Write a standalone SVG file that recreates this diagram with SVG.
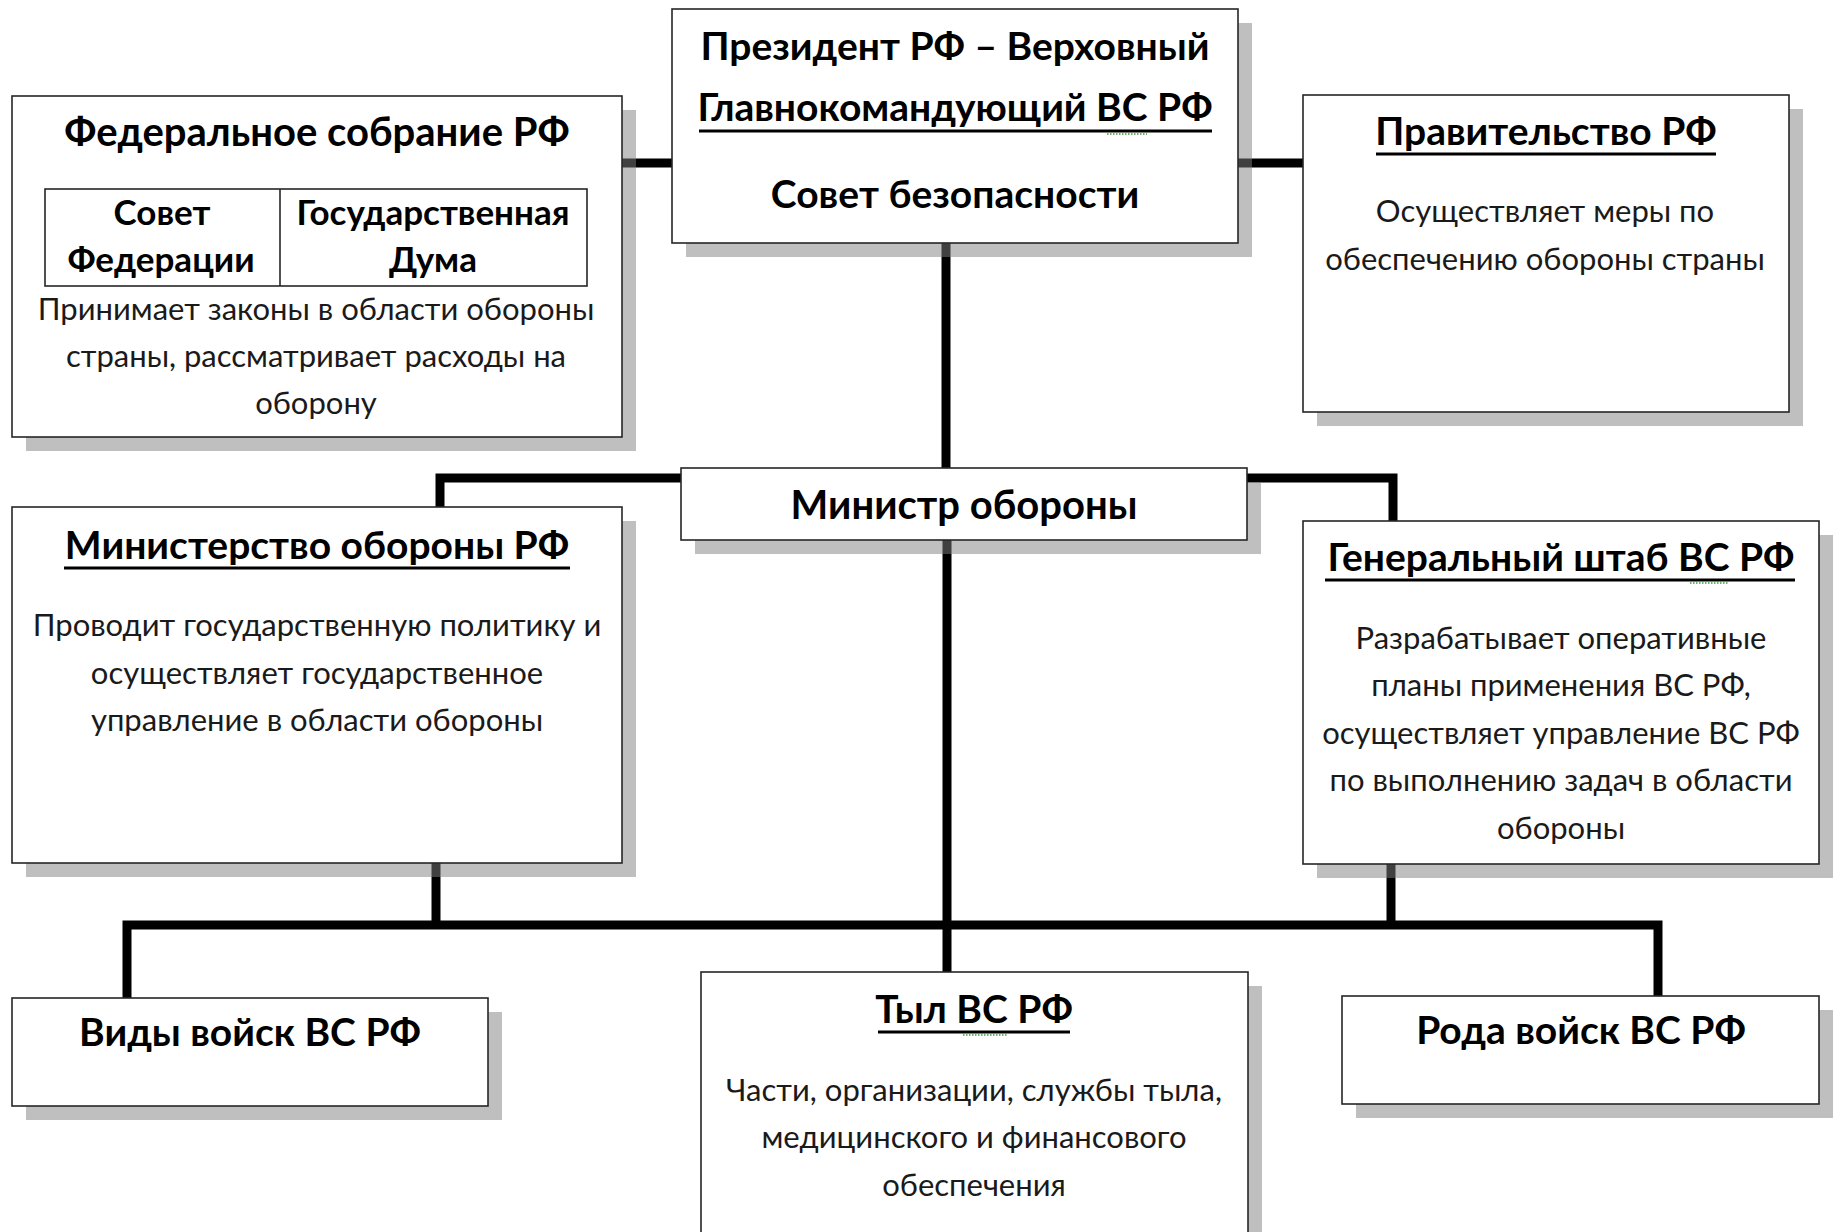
<svg xmlns="http://www.w3.org/2000/svg" width="1839" height="1232" viewBox="0 0 1839 1232">
<style>
.bg{fill:#fff}
.box{fill:#fff;stroke:#262626;stroke-width:1.6}
.sh{fill:#7f7f7f;fill-opacity:0.5}
.t{font-family:Lato,"Noto Sans",sans-serif;font-weight:700;font-size:39px;text-anchor:middle;fill:#000}
.tl{font-size:40px}
.c{font-family:Lato,"Noto Sans",sans-serif;font-weight:700;font-size:35px;text-anchor:middle;fill:#000}
.b{font-family:Lato,"Noto Sans",sans-serif;font-weight:400;font-size:31px;text-anchor:middle;fill:#1a1a1a}
.ul{stroke:#000;stroke-width:3}
.sq{stroke:#3a9a3a;stroke-width:1.5;stroke-dasharray:1.5 1.5}
.conn{stroke:#000;stroke-width:9;fill:none;stroke-linejoin:miter}
</style>
<rect class="bg" x="0" y="0" width="1839" height="1232"/>
<g id="connectors">
<path class="conn" d="M622 163 H672"/>
<path class="conn" d="M1238 163 H1303"/>
<path class="conn" d="M946 243 V468"/>
<path class="conn" d="M681 478 H440 V507"/>
<path class="conn" d="M1247 478 H1393 V521"/>
<path class="conn" d="M947 540 V972"/>
<path class="conn" d="M127 998 V925 H1658 V996"/>
<path class="conn" d="M436 863 V925"/>
<path class="conn" d="M1391 864 V925"/>
</g>
<g id="president">
<rect class="sh" x="686" y="23" width="566" height="234"/>
<rect class="box" x="672" y="9" width="566" height="234"/>
<text class="t" x="955" y="60">Президент РФ – Верховный</text>
<text class="t" x="955" y="121">Главнокомандующий ВС РФ</text>
<line class="ul" x1="699" y1="131" x2="1212" y2="131"/>
<line class="sq" x1="1107" y1="134" x2="1147" y2="134"/>
<text class="t" x="955" y="208">Совет безопасности</text>
</g>
<g id="federal-assembly">
<rect class="sh" x="26" y="110" width="610" height="341"/>
<rect class="box" x="12" y="96" width="610" height="341"/>
<text class="t tl" x="317" y="146">Федеральное собрание РФ</text>
<rect class="box" x="45" y="189" width="542" height="97"/>
<line class="box" x1="280" y1="189" x2="280" y2="286"/>
<text class="c" x="162" y="225">Совет</text>
<text class="c" x="161" y="272">Федерации</text>
<text class="c" x="433" y="225">Государственная</text>
<text class="c" x="433" y="272">Дума</text>
<text class="b" x="316" y="320">Принимает законы в области обороны</text>
<text class="b" x="316" y="367">страны, рассматривает расходы на</text>
<text class="b" x="316" y="414">оборону</text>
</g>
<g id="government">
<rect class="sh" x="1317" y="109" width="486" height="317"/>
<rect class="box" x="1303" y="95" width="486" height="317"/>
<text class="t" x="1546" y="145">Правительство РФ</text>
<line class="ul" x1="1376" y1="154" x2="1716" y2="154"/>
<text class="b" x="1545" y="222">Осуществляет меры по</text>
<text class="b" x="1545" y="270">обеспечению обороны страны</text>
</g>
<g id="minister">
<rect class="sh" x="695" y="482" width="566" height="72"/>
<rect class="box" x="681" y="468" width="566" height="72"/>
<text class="t tl" x="964" y="519">Министр обороны</text>
</g>
<g id="ministry">
<rect class="sh" x="26" y="521" width="610" height="356"/>
<rect class="box" x="12" y="507" width="610" height="356"/>
<text class="t" x="317" y="559">Министерство обороны РФ</text>
<line class="ul" x1="64" y1="568" x2="570" y2="568"/>
<text class="b" x="317" y="636">Проводит государственную политику и</text>
<text class="b" x="317" y="684">осуществляет государственное</text>
<text class="b" x="317" y="731">управление в области обороны</text>
</g>
<g id="general-staff">
<rect class="sh" x="1317" y="535" width="516" height="343"/>
<rect class="box" x="1303" y="521" width="516" height="343"/>
<text class="t" x="1561" y="571">Генеральный штаб ВС РФ</text>
<line class="ul" x1="1325" y1="580" x2="1795" y2="580"/>
<line class="sq" x1="1690" y1="583" x2="1729" y2="583"/>
<text class="b" x="1561" y="649">Разрабатывает оперативные</text>
<text class="b" x="1561" y="696">планы применения ВС РФ,</text>
<text class="b" x="1561" y="744">осуществляет управление ВС РФ</text>
<text class="b" x="1561" y="791">по выполнению задач в области</text>
<text class="b" x="1561" y="839">обороны</text>
</g>
<g id="branches">
<rect class="sh" x="26" y="1012" width="476" height="108"/>
<rect class="box" x="12" y="998" width="476" height="108"/>
<text class="t" x="250" y="1046">Виды войск ВС РФ</text>
</g>
<g id="rear">
<rect class="sh" x="715" y="986" width="547" height="280"/>
<rect class="box" x="701" y="972" width="547" height="280"/>
<text class="t" x="974" y="1023">Тыл ВС РФ</text>
<line class="ul" x1="878" y1="1032" x2="1070" y2="1032"/>
<line class="sq" x1="963" y1="1035" x2="1007" y2="1035"/>
<text class="b" x="974" y="1101">Части, организации, службы тыла,</text>
<text class="b" x="974" y="1148">медицинского и финансового</text>
<text class="b" x="974" y="1196">обеспечения</text>
</g>
<g id="arms">
<rect class="sh" x="1356" y="1010" width="477" height="108"/>
<rect class="box" x="1342" y="996" width="477" height="108"/>
<text class="t" x="1581" y="1044">Рода войск ВС РФ</text>
</g>
</svg>
